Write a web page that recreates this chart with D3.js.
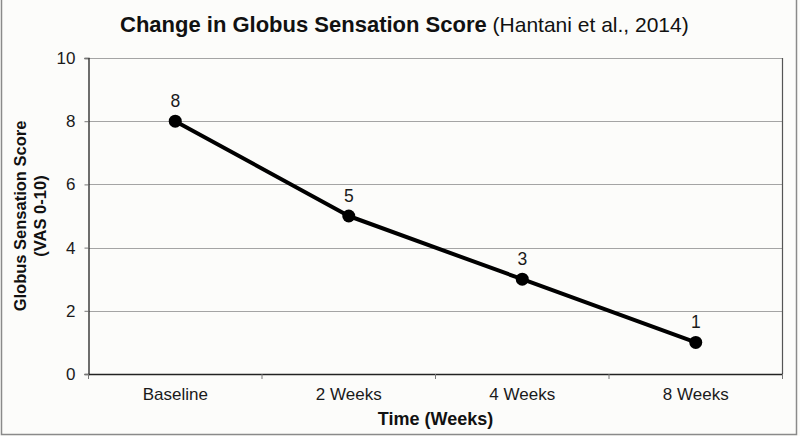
<!DOCTYPE html>
<html>
<head>
<meta charset="utf-8">
<script src="https://cdn.jsdelivr.net/npm/d3@7/dist/d3.min.js"></script>
<style>
html,body{margin:0;padding:0;background:#fcfcfa;}
svg{display:block;font-family:"Liberation Sans",Arial,Helvetica,sans-serif;}
</style>
</head>
<body>
<svg id="chart" width="800" height="436"></svg>
<script>
const categories = ["Baseline", "2 Weeks", "4 Weeks", "8 Weeks"];
const scores = [8, 5, 3, 1];
const yTicks = [0, 2, 4, 6, 8, 10];
const titleBold = "Change in Globus Sensation Score";
const titleRegular = "(Hantani et al., 2014)";
const yTitle = ["Globus Sensation Score", "(VAS 0-10)"];
const xTitle = "Time (Weeks)";

const svg = d3.select("#chart");
const W = 800, H = 436;
const m = {left: 88.5, right: 782.5, top: 58, bottom: 374};

svg.append("rect").attr("x",0).attr("y",0).attr("width",W).attr("height",H).attr("fill","#fcfcfa");
// outer frame
svg.append("path").attr("d","M1.5,0 L1.5,434.5 L796.5,434.5 L796.5,0")
  .attr("fill","none").attr("stroke","#8a8a8a").attr("stroke-width",1.5);

const x = d3.scaleBand().domain(categories).range([m.left, m.right]).padding(0);
const y = d3.scaleLinear().domain([0, 10]).range([m.bottom, m.top]);

// gridlines
svg.append("g").selectAll("line").data(yTicks.filter(d=>d>0)).join("line")
  .attr("x1", m.left).attr("x2", m.right)
  .attr("y1", d=>Math.round(y(d))+0.5).attr("y2", d=>Math.round(y(d))+0.5)
  .attr("stroke", "#a4a4a4").attr("stroke-width", 1.2);

// right border
svg.append("line").attr("x1", m.right).attr("x2", m.right).attr("y1", m.top).attr("y2", m.bottom)
  .attr("stroke","#555").attr("stroke-width",1.2);

// y axis
const yAxis = d3.axisLeft(y).tickValues(yTicks).tickSize(4).tickPadding(9).tickFormat(d3.format("d"));
const gy = svg.append("g").attr("transform", `translate(${m.left},0)`).call(yAxis);
gy.select(".domain").attr("stroke","#222").attr("stroke-width",1.3);
gy.selectAll(".tick line").attr("stroke","#777");
gy.selectAll(".tick text").attr("font-size", 17).attr("fill","#1a1a1a")
  .attr("font-family","Liberation Sans, Arial, sans-serif");

// x axis
const xAxis = d3.axisBottom(x).tickSize(0).tickPadding(14);
const gx = svg.append("g").attr("transform", `translate(0,${m.bottom})`).call(xAxis);
gx.select(".domain").attr("stroke","#222").attr("stroke-width",1.5);
gx.selectAll(".tick text").attr("font-size", 17).attr("fill","#1a1a1a")
  .attr("font-family","Liberation Sans, Arial, sans-serif");
// category boundary ticks
const bounds = categories.map(c => x(c)).concat([x(categories[categories.length-1]) + x.bandwidth()]);
svg.append("g").selectAll("line").data(bounds).join("line")
  .attr("x1", d=>d).attr("x2", d=>d).attr("y1", m.bottom).attr("y2", m.bottom+5)
  .attr("stroke","#777").attr("stroke-width",1);

// line
const cx = c => x(c) + x.bandwidth()/2;
const line = d3.line().x((d,i)=>cx(categories[i])).y(d=>y(d));
svg.append("path").datum(scores).attr("d", line)
  .attr("fill","none").attr("stroke","#000").attr("stroke-width",4).attr("stroke-linejoin","round");

svg.append("g").selectAll("circle").data(scores).join("circle")
  .attr("cx",(d,i)=>cx(categories[i])).attr("cy", d=>y(d)).attr("r",6.5).attr("fill","#000");

svg.append("g").selectAll("text").data(scores).join("text")
  .attr("x",(d,i)=>cx(categories[i])).attr("y", d=>y(d)-14)
  .attr("text-anchor","middle").attr("font-size",17.5).attr("fill","#1a1a1a")
  .text(d=>d);

// title
const t = svg.append("text").attr("x",120).attr("y",32).attr("fill","#111");
t.append("tspan").attr("font-weight","bold").attr("font-size",22).text(titleBold);
t.append("tspan").attr("font-size",21).text(" " + titleRegular);

// y title
const yt = svg.append("text").attr("transform",`translate(26,${(m.top+m.bottom)/2}) rotate(-90)`)
  .attr("text-anchor","middle").attr("font-weight","bold").attr("font-size",16.5).attr("fill","#111");
yt.append("tspan").attr("x",0).attr("y",0).text(yTitle[0]);
yt.append("tspan").attr("x",0).attr("y",20).text(yTitle[1]);

// x title
svg.append("text").attr("x", (m.left+m.right)/2).attr("y", 425).attr("text-anchor","middle")
  .attr("font-weight","bold").attr("font-size",18).attr("fill","#111").text(xTitle);
</script>
</body>
</html>
